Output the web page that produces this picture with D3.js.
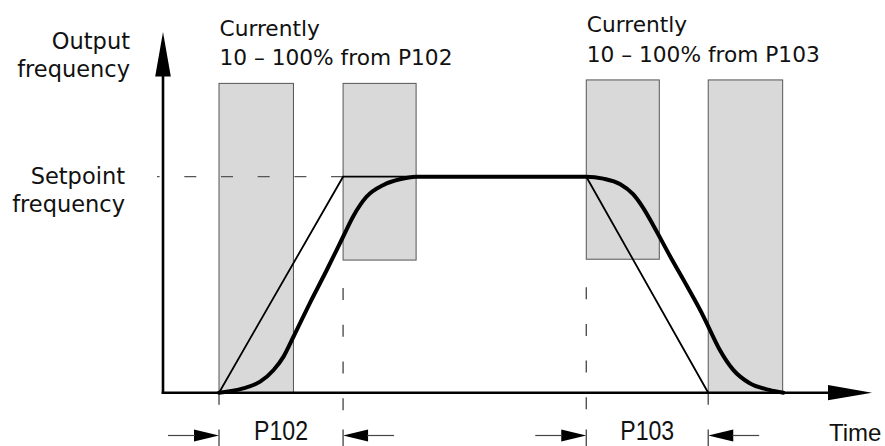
<!DOCTYPE html>
<html>
<head>
<meta charset="utf-8">
<script src="https://cdn.jsdelivr.net/npm/d3@7"></script>
<style>
  body { margin: 0; background: white; }
</style>
</head>
<body>
<div id="svgcontainer"></div>
<script>
var width = 885;
var height = 446;

// time in % of the drawn time axis, frequency in % of setpoint
var rampT = [7.9, 25.4, 59.7, 76.9];
var rampF = [0, 100, 100, 0];

// s-curve
var accelT = [7.9, 11.3, 13.7, 15.6, 17.0, 18.4, 20.7, 23.1, 25.4, 26.8, 28.7, 31.1, 33.4, 35.7];
var accelF = [0, 2.0, 5.1, 10.5, 16.7, 25.9, 41.4, 56.8, 72.2, 81.5, 90.7, 96.2, 98.8, 100];
var decelT = [59.7, 62.1, 64.5, 66.3, 67.7, 69.2, 71.5, 73.9, 76.2, 77.1, 78.5, 80.4, 82.7, 85.5, 87.5];
var decelF = [100, 99.1, 96.5, 91.9, 85.7, 77.2, 63.3, 49.4, 35.5, 29.3, 20.0, 10.7, 4.5, 1.3, 0];

// grey rounding windows
var winStart = [7.9, 25.4, 59.7, 76.9];
var winEnd = [18.4, 35.7, 70.0, 87.4];
var winLow = [0, 61.4, 61.8, 0];
var winHigh = [143.2, 143.2, 144.8, 144.8];

var noteT = [7.9, 59.7];
var noteTop = [143.2, 144.8];
var noteLines = [["Currently", "10 \u2013 100% from P102"], ["Currently", "10 \u2013 100% from P103"]];

var paramNames = ["P102", "P103"];
var paramStart = [7.9, 59.7];
var paramEnd = [25.4, 76.9];

var yLabels = [["Output", "frequency"], ["Setpoint", "frequency"]];

var x = d3.scaleLinear().domain([0, 100]).range([163, 872]);
var y = d3.scaleLinear().domain([0, 100]).range([392.7, 176.7]);

var svg = d3.select("#svgcontainer")
  .append("svg")
  .attr("width", width)
  .attr("height", height)
  .style("background-color", "white");

// windows
svg.selectAll("rect.win")
  .data(winStart)
  .enter().append("rect")
  .attr("class", "win")
  .attr("x", function (d) { return x(d); })
  .attr("width", function (d, i) { return x(winEnd[i]) - x(d); })
  .attr("y", function (d, i) { return y(winHigh[i]); })
  .attr("height", function (d, i) { return y(winLow[i]) - y(winHigh[i]); })
  .style("fill", "#d9d9d9")
  .style("stroke", "#555")
  .style("stroke-width", 1);

// setpoint dashed line, drawn from the corner leftwards
svg.append("line")
  .attr("x1", x(rampT[1])).attr("x2", x(0) - 6)
  .attr("y1", y(100)).attr("y2", y(100))
  .style("stroke", "#555")
  .style("stroke-width", 1.3)
  .style("stroke-dasharray", "12 24.7");

// dashed drops under the inner windows
[rampT[1], rampT[2]].forEach(function (t, i) {
  svg.append("line")
    .attr("x1", x(t)).attr("x2", x(t))
    .attr("y1", y(winLow[i + 1]) + 28).attr("y2", y(0) + 19)
    .style("stroke", "#444")
    .style("stroke-width", 1.3)
    .style("stroke-dasharray", "12 24.7");
});
// short ticks below the axis
[rampT[0], rampT[3]].forEach(function (t) {
  svg.append("line")
    .attr("x1", x(t)).attr("x2", x(t))
    .attr("y1", y(0)).attr("y2", y(0) + 12)
    .style("stroke", "#444")
    .style("stroke-width", 1.3);
});

// linear ramp
var line = d3.line()
  .x(function (d) { return x(d[0]); })
  .y(function (d) { return y(d[1]); });

svg.append("path")
  .datum(d3.zip(rampT, rampF))
  .attr("d", line)
  .style("fill", "none")
  .style("stroke", "black")
  .style("stroke-width", 1.8)
  .style("stroke-linejoin", "miter");

// s-curve
var sLine = d3.line()
  .x(function (d) { return x(d[0]); })
  .y(function (d) { return y(d[1]); })
  .curve(d3.curveMonotoneX);

svg.append("path")
  .datum(d3.zip(accelT, accelF).concat(d3.zip(decelT, decelF)))
  .attr("d", sLine)
  .style("fill", "none")
  .style("stroke", "black")
  .style("stroke-width", 4)
  .style("stroke-linecap", "round");

// axes with arrow heads
var yTop = 167;
svg.append("line")
  .attr("x1", x(0)).attr("x2", x(0))
  .attr("y1", y(0) + 1.2).attr("y2", y(yTop) + 20)
  .style("stroke", "black").style("stroke-width", 2.6);
svg.append("path")
  .attr("d", "M" + x(0) + "," + y(yTop) + "L" + (x(0) - 7.8) + "," + (y(yTop) + 44.5) +
    "L" + (x(0) + 7.8) + "," + (y(yTop) + 44.5) + "Z")
  .style("fill", "black");

svg.append("line")
  .attr("x1", x(0) - 1.3).attr("x2", x(100) - 20)
  .attr("y1", y(0)).attr("y2", y(0))
  .style("stroke", "black").style("stroke-width", 2.6);
svg.append("path")
  .attr("d", "M" + x(100) + "," + y(0) + "L" + (x(100) - 44) + "," + (y(0) - 7.6) +
    "L" + (x(100) - 44) + "," + (y(0) + 7.6) + "Z")
  .style("fill", "black");

// dimension arrows for P102 / P103
var dimY = 435.5;
function arrowHead(tip, dir) {
  svg.append("path")
    .attr("d", "M" + tip + "," + dimY + "L" + (tip - dir * 25) + "," + (dimY - 6) +
      "L" + (tip - dir * 25) + "," + (dimY + 6) + "Z")
    .style("fill", "black");
  svg.append("line")
    .attr("x1", tip - dir * 24).attr("x2", tip - dir * 51)
    .attr("y1", dimY).attr("y2", dimY)
    .style("stroke", "#444").style("stroke-width", 1.2);
  svg.append("line")
    .attr("x1", tip).attr("x2", tip)
    .attr("y1", dimY - 6).attr("y2", height)
    .style("stroke", "#444").style("stroke-width", 1.3);
}

paramNames.forEach(function (name, i) {
  var a = x(paramStart[i]), b = x(paramEnd[i]);
  arrowHead(a, 1);
  arrowHead(b, -1);
  svg.append("text")
    .attr("x", (a + b) / 2)
    .attr("y", 440)
    .attr("text-anchor", "middle")
    .attr("textLength", 54)
    .attr("lengthAdjust", "spacingAndGlyphs")
    .style("font-family", "'Liberation Sans Narrow', 'Liberation Sans', Arial, sans-serif")
    .style("font-size", "27px")
    .style("fill", "#111")
    .text(name);
});

// notes above the windows
noteLines.forEach(function (lines, i) {
  lines.forEach(function (s, j) {
    svg.append("text")
      .attr("x", x(noteT[i]) + 0.5)
      .attr("y", y(noteTop[i]) - 47.5 + j * 29.3)
      .style("font-family", "'DejaVu Sans', sans-serif")
      .style("font-size", "21.7px")
      .style("fill", "#111")
      .text(s);
  });
});

// axis labels
var labelBase = [48.5, 183.5];
var labelRight = [130, 125];
yLabels.forEach(function (lines, i) {
  lines.forEach(function (s, j) {
    svg.append("text")
      .attr("x", labelRight[i])
      .attr("y", labelBase[i] + j * 28.8)
      .attr("text-anchor", "end")
      .style("font-family", "'DejaVu Sans', sans-serif")
      .style("font-size", "22.5px")
      .style("fill", "#111")
      .text(s);
  });
});

svg.append("text")
  .attr("x", 829)
  .attr("y", 440.5)
  .style("font-family", "'Liberation Sans', Arial, sans-serif")
  .style("font-size", "24px")
  .style("fill", "#111")
  .text("Time");
</script>
</body>
</html>
